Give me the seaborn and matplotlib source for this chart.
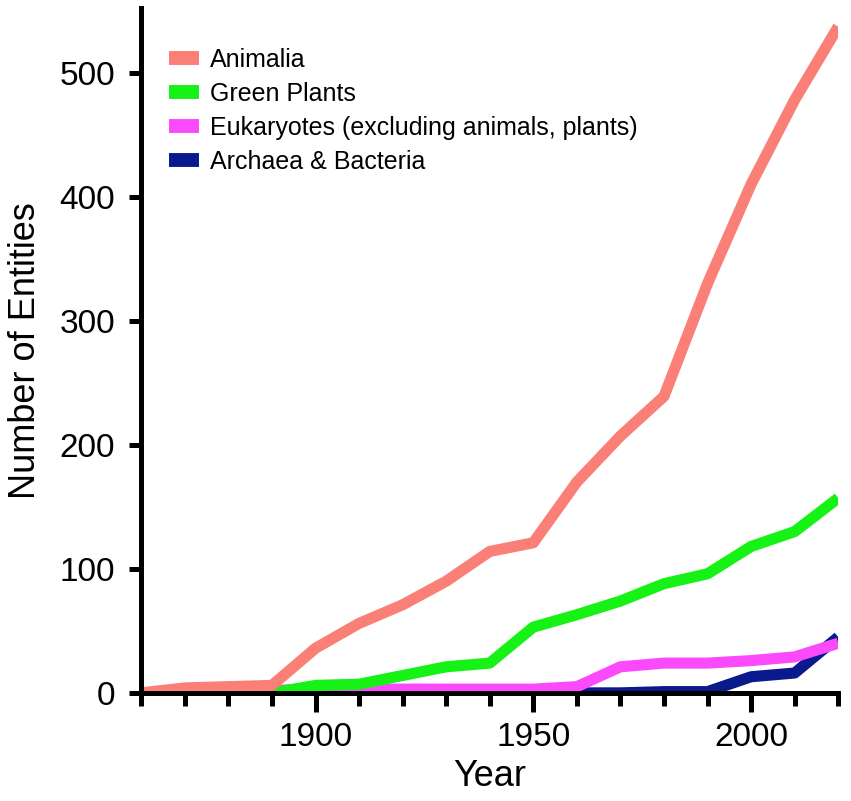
import numpy as np
import pandas as pd
import seaborn as sns
import matplotlib.pyplot as plt
from matplotlib.ticker import MultipleLocator

years = list(range(1860, 2021, 10))
animalia = [0, 4, 5, 6, 36, 56, 71, 90, 114, 121, 170, 207, 239, 330, 410, 478, 537]
green_plants = [0, 0, 0, 0, 6, 7, 14, 21, 24, 53, 63, 74, 88, 96, 118, 130, 157]
eukaryotes = [0, 0, 0, 2, 3, 3, 3, 3, 3, 3, 5, 21, 24, 24, 26, 29, 40]
archaea = [0, 0, 0, 0, 0, 0, 0, 0, 0, 0, 0, 0, 1, 1, 13, 16, 45]

groups = ["Animalia", "Green Plants", "Eukaryotes (excluding animals, plants)", "Archaea & Bacteria"]
colors = ["#fa7f77", "#16f216", "#fb4afb", "#0a1a8c"]

df = pd.DataFrame({
    "Year": years * 4,
    "Count": animalia + green_plants + eukaryotes + archaea,
    "Group": [g for g in groups for _ in years],
})

sns.set_style("ticks")
plt.rcParams["font.family"] = ["Liberation Sans", "DejaVu Sans"]
for k in ["text.color", "axes.labelcolor", "xtick.color", "ytick.color", "axes.edgecolor"]:
    plt.rcParams[k] = "black"

fig, ax = plt.subplots(figsize=(8.51, 8.01), dpi=100)
fig.subplots_adjust(left=0.166, right=0.985, top=0.99, bottom=0.135)

# draw bottom series first so Animalia sits on top
for g, c in list(zip(groups, colors))[::-1]:
    sns.lineplot(data=df[df.Group == g], x="Year", y="Count", color=c,
                 linewidth=8, ax=ax, label=g, solid_capstyle="butt")

ax.set_xlim(1860, 2020)
ax.set_ylim(0, 552)
ax.xaxis.set_minor_locator(MultipleLocator(10))
ax.yaxis.set_major_locator(MultipleLocator(100))
ax.set_xticks([1900, 1950, 2000])

for s in ["top", "right"]:
    ax.spines[s].set_visible(False)
for s in ["left", "bottom"]:
    ax.spines[s].set_linewidth(3.6)
ax.tick_params(axis="both", which="major", width=3.6, length=14, labelsize=24, pad=7)
ax.tick_params(axis="x", which="minor", width=3.6, length=9)
ax.tick_params(axis="y", which="major", length=9, pad=10)

ax.set_xlabel("Year", fontsize=26, labelpad=4)
ax.set_ylabel("Number of Entities", fontsize=26, labelpad=12)

handles, labels = ax.get_legend_handles_labels()
order = [labels.index(g) for g in groups]
leg = ax.legend([handles[i] for i in order], [labels[i] for i in order],
                loc="upper left", bbox_to_anchor=(0.007, 0.975), frameon=False,
                fontsize=18, handlelength=1.2, handletextpad=0.45, labelspacing=0.4)
for line in leg.get_lines():
    line.set_linewidth(10)

fig.savefig("out.png", dpi=100)
